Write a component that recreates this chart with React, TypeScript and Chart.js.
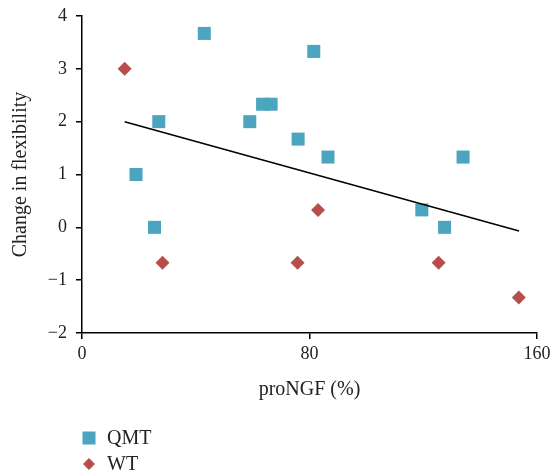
import React, { useEffect, useRef } from "react";
import { Chart, registerables } from "chart.js";

Chart.register(...registerables);

const qmtX = [19, 27, 25.5, 43, 59, 63.5, 66.5, 76, 81.5, 86.5, 119.5, 127.5, 134];
const qmtY = [1, 2, 0, 3.67, 2, 2.33, 2.33, 1.67, 3.33, 1.33, 0.33, 0, 1.33];
const wtX = [15, 28.3, 75.8, 83, 125.4, 153.6];
const wtY = [3, -0.67, -0.67, 0.33, -0.67, -1.33];
const trendX = [15, 153.7];
const trendY = [2.0, -0.07];
const seriesNames = ["QMT", "WT"];
const xTitle = "proNGF (%)";
const yTitle = "Change in flexibility";

const QMT_COLOR = "#4CA5BE";
const WT_COLOR = "#B84E4B";
const FONT = "'Liberation Serif', 'Times New Roman', serif";

export default function App() {
  const ref = useRef<HTMLCanvasElement | null>(null);
  useEffect(() => {
    if (!ref.current) return;
    const legendPlugin = {
      id: "customLegend",
      afterDraw(chart: any) {
        const ctx = chart.ctx;
        ctx.save();
        ctx.fillStyle = QMT_COLOR;
        ctx.fillRect(82.5, 431.5, 13, 13);
        ctx.fillStyle = WT_COLOR;
        ctx.beginPath();
        ctx.moveTo(89, 458);
        ctx.lineTo(95, 464);
        ctx.lineTo(89, 470);
        ctx.lineTo(83, 464);
        ctx.closePath();
        ctx.fill();
        ctx.fillStyle = "#222";
        ctx.font = `20px ${FONT}`;
        ctx.textBaseline = "middle";
        ctx.textAlign = "left";
        ctx.fillText(seriesNames[0], 107, 438.5);
        ctx.fillText(seriesNames[1], 107, 464.5);
        ctx.restore();
      },
    };
    const chart = new Chart(ref.current, {
      type: "scatter",
      data: {
        datasets: [
          {
            label: "trend",
            data: trendX.map((x, i) => ({ x, y: trendY[i] })),
            showLine: true,
            borderColor: "#000",
            borderWidth: 1.5,
            pointRadius: 0,
            order: 0,
          },
          {
            label: seriesNames[0],
            data: qmtX.map((x, i) => ({ x, y: qmtY[i] })),
            pointStyle: "rect",
            pointRadius: 9.2,
            backgroundColor: QMT_COLOR,
            borderColor: QMT_COLOR,
            borderWidth: 0,
            order: 1,
          },
          {
            label: seriesNames[1],
            data: wtX.map((x, i) => ({ x, y: wtY[i] })),
            pointStyle: "rectRot",
            pointRadius: 7,
            backgroundColor: WT_COLOR,
            borderColor: WT_COLOR,
            borderWidth: 0,
            order: 1,
          },
        ],
      },
      options: {
        animation: false,
        responsive: false,
        maintainAspectRatio: false,
        layout: { padding: { top: 16, right: 15, bottom: 62, left: 0 } },
        plugins: { legend: { display: false }, tooltip: { enabled: false } },
        scales: {
          x: {
            type: "linear",
            min: 0,
            max: 160,
            ticks: { stepSize: 80, color: "#222", font: { family: FONT, size: 18 }, padding: 4 },
            grid: { drawOnChartArea: false, drawTicks: true, tickLength: 6, color: "#000", lineWidth: 1.5 },
            border: { display: true, color: "#000", width: 1.5 },
            title: { display: true, text: xTitle, color: "#222", font: { family: FONT, size: 20 }, padding: { top: 0, bottom: 11 } },
            afterFit: (s: any) => {
              s.height = 80;
              s.paddingLeft = 0;
              s.paddingRight = 0;
            },
          },
          y: {
            type: "linear",
            min: -2,
            max: 4,
            ticks: {
              stepSize: 1,
              color: "#222",
              font: { family: FONT, size: 18 },
              padding: 9,
              callback: (v: any) => (v < 0 ? "\u2212" + Math.abs(v) : String(v)),
            },
            grid: { drawOnChartArea: false, drawTicks: true, tickLength: 6, color: "#000", lineWidth: 1.5 },
            border: { display: true, color: "#000", width: 1.5 },
            title: { display: true, text: yTitle, color: "#222", font: { family: FONT, size: 20 }, padding: { top: 9, bottom: 0 } },
            afterFit: (s: any) => {
              s.width = 82;
              s.paddingTop = 0;
              s.paddingBottom = 0;
            },
          },
        },
      },
      plugins: [legendPlugin],
    });
    return () => chart.destroy();
  }, []);
  return (
    <div style={{ position: "fixed", left: 0, top: 0, width: 552, height: 475, background: "#fff" }}>
      <canvas ref={ref} width={552} height={475} style={{ width: 552, height: 475 }} />
    </div>
  );
}
